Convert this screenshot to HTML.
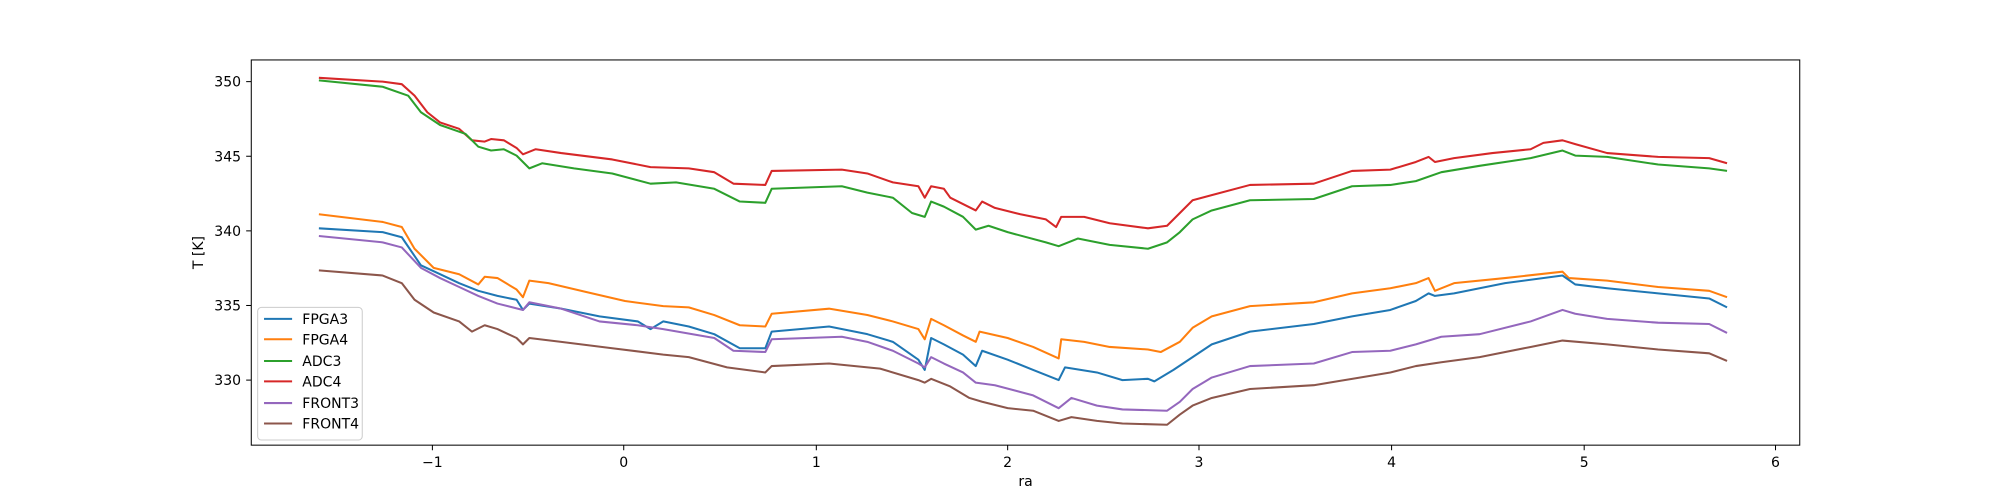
<!DOCTYPE html>
<html><head><meta charset="utf-8"><style>body{margin:0;background:#fff}svg{display:block}text{font-family:"DejaVu Sans","Liberation Sans",sans-serif;font-size:11px;fill:#000}</style></head><body>
<svg width="2000" height="500" viewBox="0 0 1568 392" preserveAspectRatio="none" xmlns="http://www.w3.org/2000/svg">
<rect width="1568" height="392" fill="#fff"/>
<g fill="none" stroke-width="1.6" stroke-linejoin="round">
<polyline stroke="#d62728" points="250,61 300,64 315,66 325,75 335,88 345,96 360,101 370,110 380,111 385,109 395,110 405,116 410,121 420,117 440,120 480,125 510,131 540,132 560,135 575,144 600,145 605,134 660,133 680,136 700,143 720,146 725,155 730,146 740,148 745,155 755,160 765,165 770,158 780,163 800,168 820,172 828,178 832,170 850,170 870,175 900,179 915,177 925,167 935,157 950,153 980,145 1030,144 1060,134 1090,133 1110,127 1120,123 1125,127 1140,124 1170,120 1200,117 1210,112 1225,110 1235,113 1260,120 1300,123 1340,124 1354,128"/>
<polyline stroke="#2ca02c" points="250,63 300,68 320,75 330,88 345,98 365,105 375,115 385,118 395,117 405,122 415,132 425,128 450,132 480,136 510,144 530,143 560,148 580,158 600,159 605,148 660,146 680,151 700,155 715,167 725,170 730,158 740,162 755,170 765,180 775,177 790,182 820,190 830,193 845,187 870,192 900,195 915,190 925,182 935,172 950,165 980,157 1030,156 1060,146 1090,145 1110,142 1130,135 1160,130 1200,124 1225,118 1235,122 1260,123 1300,129 1340,132 1354,134"/>
<polyline stroke="#ff7f0e" points="250,168 300,174 315,178 325,195 340,210 360,215 375,223 380,217 390,218 405,227 410,233 415,220 430,222 460,229 490,236 520,240 540,241 560,247 580,255 600,256 605,246 650,242 680,247 700,252 720,258 725,266 730,250 740,255 755,263 765,268 768,260 790,265 810,272 830,281 832,266 850,268 870,272 900,274 910,276 925,268 935,257 950,248 980,240 1030,237 1060,230 1090,226 1110,222 1120,218 1125,228 1140,222 1180,218 1225,213 1230,218 1260,220 1300,225 1340,228 1354,233"/>
<polyline stroke="#1f77b4" points="250,179 300,182 315,186 330,208 345,215 360,222 375,228 390,232 405,235 410,243 415,238 440,242 470,248 500,252 510,258 520,252 540,256 560,262 580,273 600,273 605,260 650,256 680,262 700,268 720,282 725,290 730,265 740,270 755,278 765,287 770,275 790,282 810,290 830,298 835,288 860,292 880,298 900,297 905,299 920,290 935,280 950,270 980,260 1030,254 1060,248 1090,243 1110,236 1120,230 1125,232 1140,230 1180,222 1225,216 1235,223 1260,226 1300,230 1340,234 1354,241"/>
<polyline stroke="#9467bd" points="250,185 300,190 315,194 330,210 345,218 360,225 375,232 390,238 410,243 415,237 440,242 470,252 500,255 520,258 560,265 575,275 600,276 605,266 660,264 680,268 700,275 720,285 725,288 730,280 740,285 755,292 765,300 780,302 810,310 830,320 840,312 860,318 880,321 915,322 925,315 935,305 950,296 980,287 1030,285 1060,276 1090,275 1110,270 1130,264 1160,262 1200,252 1225,243 1235,246 1260,250 1300,253 1340,254 1354,261"/>
<polyline stroke="#8c564b" points="250,212 300,216 315,222 325,235 340,245 360,252 370,260 380,255 390,258 405,265 410,270 415,265 440,268 480,273 520,278 540,280 570,288 600,292 605,287 650,285 690,289 720,298 725,300 730,297 745,303 760,312 770,315 790,320 810,322 830,330 840,327 860,330 880,332 915,333 925,325 935,318 950,312 980,305 1030,302 1060,297 1090,292 1110,287 1130,284 1160,280 1200,272 1225,267 1260,270 1300,274 1340,277 1354,283"/>
</g>
<rect x="197" y="47" width="1214" height="302" fill="none" stroke="#000" stroke-width="0.8"/>
<g stroke="#000" stroke-width="0.8">
<line x1="339" y1="349" x2="339" y2="353"/><line x1="489" y1="349" x2="489" y2="353"/><line x1="640" y1="349" x2="640" y2="353"/><line x1="790" y1="349" x2="790" y2="353"/><line x1="940" y1="349" x2="940" y2="353"/><line x1="1091" y1="349" x2="1091" y2="353"/><line x1="1242" y1="349" x2="1242" y2="353"/><line x1="1392" y1="349" x2="1392" y2="353"/>
<line x1="193" y1="64" x2="197" y2="64"/><line x1="193" y1="122.5" x2="197" y2="122.5"/><line x1="193" y1="181" x2="197" y2="181"/><line x1="193" y1="239.5" x2="197" y2="239.5"/><line x1="193" y1="298" x2="197" y2="298"/>
</g>
<g text-anchor="middle">
<text x="339" y="366">−1</text><text x="489" y="366">0</text><text x="640" y="366">1</text><text x="790" y="366">2</text><text x="940" y="366">3</text><text x="1091" y="366">4</text><text x="1242" y="366">5</text><text x="1392" y="366">6</text>
<text x="804" y="381">ra</text>
</g>
<g text-anchor="end">
<text x="189" y="68">350</text><text x="189" y="126.5">345</text><text x="189" y="185">340</text><text x="189" y="243.5">335</text><text x="189" y="302">330</text>
</g>
<text transform="translate(159,198) rotate(-90)" text-anchor="middle">T [K]</text>
<rect x="202" y="241" width="82" height="104" rx="3" fill="#fff" fill-opacity="0.8" stroke="#ccc" stroke-width="0.8"/>
<g stroke-width="1.6">
<line x1="207" y1="250" x2="229" y2="250" stroke="#1f77b4"/>
<line x1="207" y1="266" x2="229" y2="266" stroke="#ff7f0e"/>
<line x1="207" y1="283" x2="229" y2="283" stroke="#2ca02c"/>
<line x1="207" y1="299" x2="229" y2="299" stroke="#d62728"/>
<line x1="207" y1="316" x2="229" y2="316" stroke="#9467bd"/>
<line x1="207" y1="332" x2="229" y2="332" stroke="#8c564b"/>
</g>
<g font-size="10.5">
<text x="237" y="254">FPGA3</text><text x="237" y="270">FPGA4</text><text x="237" y="287">ADC3</text><text x="237" y="303">ADC4</text><text x="237" y="320">FRONT3</text><text x="237" y="336">FRONT4</text>
</g>
</svg>
</body></html>
